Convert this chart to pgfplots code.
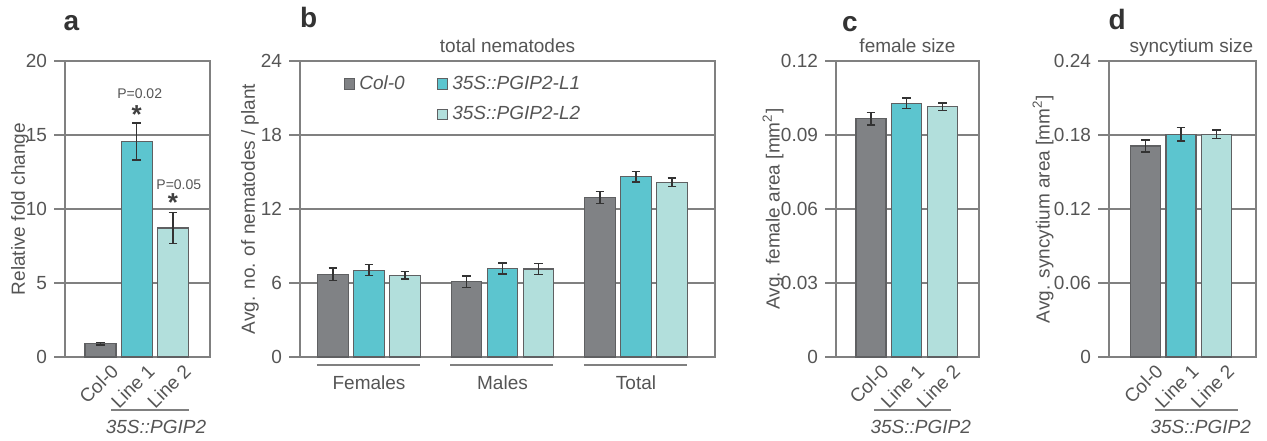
\documentclass[border=0pt]{standalone}
\usepackage{fontspec}
\setmainfont{Liberation Sans}
\usepackage{pgfplots}
\pgfplotsset{compat=1.18}
\definecolor{colzero}{RGB}{128,130,133}
\definecolor{lineone}{RGB}{92,197,207}
\definecolor{linetwo}{RGB}{178,223,220}
\definecolor{baredge}{RGB}{95,96,98}
\definecolor{axgray}{RGB}{128,128,128}
\definecolor{txtgray}{RGB}{85,85,85}

\pgfplotsset{
  panel/.style={
    scale only axis, height=148pt, ymin=0,
    axis line style={axgray, line width=0.8pt},
    ymajorgrids, grid style={axgray, line width=0.6pt},
    ytick pos=left, ytick align=outside, major tick length=5.5pt,
    ytick style={axgray, line width=0.8pt},
    xtick style={draw=none},
    scaled y ticks=false,
    tick label style={font=\fontsize{9.5}{11}\selectfont, text=txtgray},
    label style={font=\fontsize{9.5}{11}\selectfont, text=txtgray},
    every axis title shift=0pt,
    title style={font=\fontsize{9.5}{11}\selectfont, text=txtgray,
      at={(0.5,1)}, anchor=base, yshift=4.5pt},
    /pgf/number format/assume math mode=true,
    clip=false,
  },
  ylab/.style={ylabel style={at={([xshift=-#1]rel axis cs:0,0.5)}, anchor=center}},
  catbar/.style={ybar, bar shift=0pt, draw=baredge, line width=0.6pt, fill=#1,
    error bars/y dir=both, error bars/y explicit,
    error bars/error bar style={line width=0.7pt, draw=black!80},
    error bars/error mark options={rotate=90, mark size=2.2pt, line width=0.7pt, draw=black!80}},
  rotlabels/.style={xtick={0.53,1.53,2.53}, xticklabels={Col-0,Line 1,Line 2},
    xticklabel style={rotate=45, anchor=east}, xticklabel shift=3pt},
}

\begin{document}
\begin{tikzpicture}
\useasboundingbox (0,0) rectangle (633.5pt,220pt);

% a: relative expression
\begin{axis}[panel, at={(32.5pt,41.5pt)}, anchor=south west, width=72.5pt,
  xmin=-0.98, xmax=3.02, ymax=20, ytick={0,5,10,15,20},
  ylabel={Relative fold change}, ylab=22.5pt, rotlabels, bar width=15.5pt]
\addplot[catbar=colzero] coordinates {(0,0.9) +- (0,0.08)};
\addplot[catbar=lineone] coordinates {(1,14.55) +- (0,1.25)};
\addplot[catbar=linetwo] coordinates {(2,8.72) +- (0,1.04)};
\node[font=\fontsize{7}{8}\selectfont, text=txtgray] at (axis cs:1.08,17.8) {P=0.02};
\node[font=\bfseries\fontsize{13}{13}\selectfont, text=black!75] at (axis cs:1,16.4) {*};
\node[font=\fontsize{7}{8}\selectfont, text=txtgray] at (axis cs:2.16,11.65) {P=0.05};
\node[font=\bfseries\fontsize{13}{13}\selectfont, text=black!75] at (axis cs:2,10.45) {*};
\draw[axgray, line width=0.8pt] ([yshift=-26.5pt]axis cs:0.29,0) -- ([yshift=-26.5pt]axis cs:2.44,0);
\node[font=\itshape\fontsize{9.5}{11}\selectfont, text=txtgray] at ([yshift=-35pt]axis cs:1.53,0) {35S::PGIP2};
\end{axis}

% b: nematode counts (groups at 0,1,2; bars at -0.27, 0, +0.27)
\begin{axis}[panel, at={(150pt,41.5pt)}, anchor=south west, width=207.5pt,
  xmin=-0.517, xmax=2.592, ymax=24, ytick={0,6,12,18,24},
  xtick={0,1,2}, xticklabels={Females,Males,Total}, xticklabel style={yshift=-6pt},
  ylabel={Avg. no. of nematodes / plant}, ylab=25pt, title={total nematodes},
  bar width=15.25pt,
  legend columns=2, legend cell align=left,
  legend style={draw=none, fill=none, at={(0.09,0.979)}, anchor=north west,
    font=\itshape\fontsize{9.5}{11}\selectfont, text=txtgray,
    /tikz/every even column/.append style={column sep=14pt}, row sep=3pt},
  legend image code/.code={\draw[#1] (0pt,-2.6pt) rectangle (5.2pt,2.6pt);}]
\addplot[catbar=colzero] coordinates {(-0.27,6.71) +- (0,0.5) (0.73,6.09) +- (0,0.47) (1.73,12.94) +- (0,0.5)};
\addlegendentry{Col-0}
\addplot[catbar=lineone] coordinates {(0,7.04) +- (0,0.45) (1,7.17) +- (0,0.45) (2,14.61) +- (0,0.42)};
\addlegendentry{35S::PGIP2-L1}
\addlegendimage{empty legend}
\addlegendentry{}
\addplot[catbar=linetwo] coordinates {(0.27,6.63) +- (0,0.3) (1.27,7.14) +- (0,0.43) (2.27,14.18) +- (0,0.35)};
\addlegendentry{35S::PGIP2-L2}
\foreach \g in {0,1,2} {
  \edef\tmp{\noexpand\draw[axgray, line width=0.8pt] ([yshift=-4pt]axis cs:\g-0.39,0) -- ([yshift=-4pt]axis cs:\g+0.38,0);}
  \tmp
}
\end{axis}

% c: female size
\begin{axis}[panel, at={(418pt,41.5pt)}, anchor=south west, width=71.5pt,
  xmin=-0.979, xmax=3.02, ymax=0.12, ytick={0,0.03,0.06,0.09,0.12},
  yticklabels={0,0.03,0.06,0.09,0.12},
  ylabel={Avg. female area [mm\textsuperscript{2}]}, ylab=31.5pt, title={female size},
  rotlabels, bar width=15pt]
\addplot[catbar=colzero] coordinates {(0,0.0966) +- (0,0.0025)};
\addplot[catbar=lineone] coordinates {(1,0.1029) +- (0,0.0021)};
\addplot[catbar=linetwo] coordinates {(2,0.1014) +- (0,0.0015)};
\draw[axgray, line width=0.8pt] ([yshift=-26.5pt]axis cs:0.08,0) -- ([yshift=-26.5pt]axis cs:2.24,0);
\node[font=\itshape\fontsize{9.5}{11}\selectfont, text=txtgray] at ([yshift=-35pt]axis cs:1.39,0) {35S::PGIP2};
\end{axis}

% d: syncytium size
\begin{axis}[panel, at={(554.5pt,41.5pt)}, anchor=south west, width=73.5pt,
  xmin=-1.02, xmax=3.1, ymax=0.24, ytick={0,0.06,0.12,0.18,0.24},
  yticklabels={0,0.06,0.12,0.18,0.24},
  ylabel={Avg. syncytium area [mm\textsuperscript{2}]}, ylab=33pt, title={syncytium size},
  title style={at={(0.56,1)}},
  rotlabels, bar width=15pt]
\addplot[catbar=colzero] coordinates {(0,0.1711) +- (0,0.005)};
\addplot[catbar=lineone] coordinates {(1,0.1805) +- (0,0.0055)};
\addplot[catbar=linetwo] coordinates {(2,0.1805) +- (0,0.0034)};
\draw[axgray, line width=0.8pt] ([yshift=-26.5pt]axis cs:0.27,0) -- ([yshift=-26.5pt]axis cs:2.6,0);
\node[font=\itshape\fontsize{9.5}{11}\selectfont, text=txtgray] at ([yshift=-35pt]axis cs:1.55,0) {35S::PGIP2};
\end{axis}

\node[anchor=base west, font=\bfseries\fontsize{14}{14}\selectfont, text=black!80] at (28.3pt,204.5pt) {a};
\node[anchor=base west, font=\bfseries\fontsize{14}{14}\selectfont, text=black!80] at (146.5pt,206pt) {b};
\node[anchor=base west, font=\bfseries\fontsize{14}{14}\selectfont, text=black!80] at (417.5pt,204.2pt) {c};
\node[anchor=base west, font=\bfseries\fontsize{14}{14}\selectfont, text=black!80] at (550.8pt,205pt) {d};
\end{tikzpicture}
\end{document}
